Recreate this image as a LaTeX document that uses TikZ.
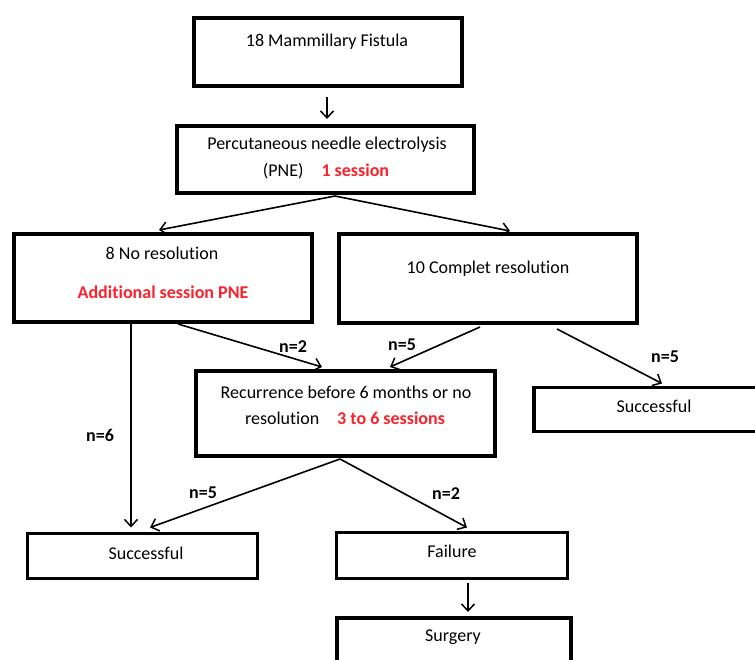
\documentclass[tikz,border=0pt]{standalone}
\usepackage{fontspec}
\setmainfont{Carlito}[Ligatures=NoCommon]
\usetikzlibrary{arrows.meta}
\definecolor{pnered}{RGB}{252,34,44}
\tikzset{
  box/.style={draw=black, line width=3.5pt, rectangle, inner sep=0pt, outer sep=0pt},
  txt/.style={inner sep=0pt, font=\fontsize{18}{22}\selectfont, text=black},
  lbl/.style={inner sep=0pt, font=\fontsize{18}{22}\selectfont\bfseries, text=black},
  arr/.style={line width=1.6pt, -{Straight Barb[length=7pt,width=13pt,line width=1.5pt]}}
}
\begin{document}
\begin{tikzpicture}[x=1pt,y=-1pt]
\useasboundingbox (0,0) rectangle (755,660);
% boxes
\node[box, minimum width=268pt, minimum height=68pt] (b1) at (328,52) {};
\node[box, minimum width=297pt, minimum height=67pt] (b2) at (325.5,159.5) {};
\node[box, minimum width=298pt, minimum height=88pt] (b3) at (163,278) {};
\node[box, minimum width=298pt, minimum height=89pt] (b4) at (488,278.5) {};
\node[box, minimum width=299pt, minimum height=85pt] (b5) at (345.5,413.5) {};
\node[box, minimum width=226pt, minimum height=44pt] (b6) at (647,409.5) {};
\node[box, minimum width=230pt, minimum height=45pt] (b7) at (142.5,556) {};
\node[box, minimum width=231pt, minimum height=46pt] (b8) at (452,555.5) {};
\node[box, minimum width=234pt, minimum height=72pt] (b9) at (454,654) {};
% texts
\node[txt] (t1) at (327,42) {18 Mammillary Fistula};
\node[txt] (t2a) at (327,145) {Percutaneous needle electrolysis};
\node[txt] (t2b) at (326,171) {(PNE)\quad{\color{pnered}\bfseries 1 session}};
\node[txt] (t3a) at (162,253) {8 No resolution};
\node[txt, text=pnered, font=\fontsize{18}{22}\selectfont\bfseries] (t3b) at (163,292) {Additional session PNE};
\node[txt] (t4) at (488,269) {10 Complet resolution};
\node[txt] (t5a) at (346,392) {Recurrence before 6 months or no};
\node[txt] (t5b) at (345,418) {resolution\quad{\color{pnered}\bfseries 3 to 6 sessions}};
\node[txt] (t6) at (654,406) {Successful};
\node[txt] (t7) at (146,553) {Successful};
\node[txt] (t8) at (452,551) {Failure};
\node[txt] (t9) at (453,637) {Surgery};
% labels
\node[lbl] (l1) at (293,347) {n=2};
\node[lbl] (l2) at (402,345) {n=5};
\node[lbl] (l3) at (665,357) {n=5};
\node[lbl] (l4) at (100,435) {n=6};
\node[lbl] (l5) at (203,493) {n=5};
\node[lbl] (l6) at (446,494) {n=2};
% connectors
\draw[arr] ([xshift=-1pt,yshift=-11pt]b1.south) -- ([xshift=1.5pt,yshift=7pt]b2.north);
\draw[arr] ([xshift=9.5pt,yshift=-3pt]b2.south) -- ([xshift=-4pt,yshift=4pt]b3.north);
\draw[arr] ([xshift=9.5pt,yshift=-3pt]b2.south) -- ([xshift=22pt,yshift=3pt]b4.north);
\draw[arr] ([xshift=-32pt,yshift=-2pt]b3.south) -- ([xshift=-11.5pt,yshift=6pt]b7.north);
\draw[arr] ([xshift=15pt,yshift=-2pt]b3.south) -- ([xshift=-23.5pt,yshift=4pt]b5.north);
\draw[arr] ([xshift=-8pt,yshift=-4pt]b4.south) -- ([xshift=44.5pt,yshift=4pt]b5.north);
\draw[arr] ([xshift=69pt,yshift=-6pt]b4.south) -- ([xshift=15pt,yshift=4pt]b6.north);
\draw[arr] ([xshift=-5.5pt,yshift=-3pt]b5.south) -- ([xshift=7.5pt,yshift=6pt]b7.north);
\draw[arr] ([xshift=-5.5pt,yshift=-3pt]b5.south) -- ([xshift=15pt,yshift=5pt]b8.north);
\draw[arr] ([xshift=16pt,yshift=-4.5pt]b8.south) -- ([xshift=14pt,yshift=6pt]b9.north);
\end{tikzpicture}
\end{document}
